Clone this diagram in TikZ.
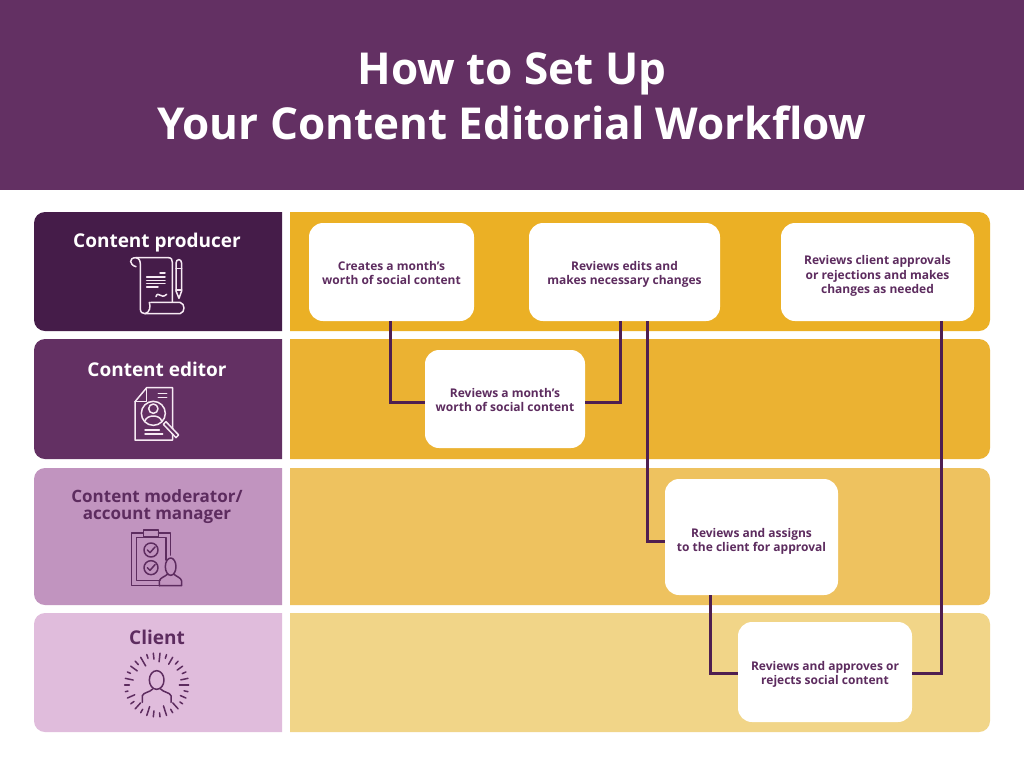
\documentclass[tikz,border=0pt]{standalone}
\usepackage{fontspec}
\setmainfont{Open Sans}
\definecolor{headcol}{HTML}{633063}
\definecolor{producercol}{HTML}{451C49}
\definecolor{moderatorcol}{HTML}{C194BF}
\definecolor{clientcol}{HTML}{E0BCDC}
\definecolor{golda}{HTML}{EBB025}
\definecolor{goldb}{HTML}{EBB232}
\definecolor{goldc}{HTML}{EEC25F}
\definecolor{goldd}{HTML}{F1D588}
\definecolor{inkcol}{HTML}{5D2C5F}
\definecolor{linkcol}{HTML}{4F1F50}
\definecolor{paper}{HTML}{F6E9F3}
\newcommand{\topstrut}[1][15pt]{\rule{0pt}{#1}}
\newcommand{\botstrut}{\rule[-4pt]{0pt}{4pt}}
\tikzset{
	titletext/.style={text=white, align=center, font=\bfseries\fontsize{44}{55}\selectfont},
	roletext/.style={align=center, font=\bfseries\fontsize{19}{18.5}\selectfont},
	stepbox/.style={fill=white, rounded corners=14pt, align=center, inner sep=0pt, text=inkcol, font=\bfseries\fontsize{12}{14.3}\selectfont},
	link/.style={draw=linkcol, line width=3pt},
	icon/.style={line width=1.5pt, line join=round, line cap=round},
}
\begin{document}
\begin{tikzpicture}[x=1pt, y=-1pt]
	\useasboundingbox (0, 0) rectangle (1024, 758);
	\fill[white]	(0, 0) rectangle (1024, 758);
	\fill[headcol]	(0, 0) rectangle (1024, 190);

	\node[titletext] (title) at (512, 96) {How to Set Up\\Your Content Editorial Workflow};

	\foreach \ytop/\ybot/\rolecol/\bandcol in {212/331/producercol/golda, 339/459/headcol/goldb, 468/605/moderatorcol/goldc, 613/732/clientcol/goldd} {
		\fill[\rolecol, rounded corners=11pt]	(282, \ytop) -- (34, \ytop) -- (34, \ybot) -- (282, \ybot);
		\fill[\bandcol, rounded corners=11pt]	(290, \ytop) -- (990, \ytop) -- (990, \ybot) -- (290, \ybot);
	}

	\node[roletext, text=white] (producer) at (157, 243) {Content producer};
	\node[roletext, text=white] (editor) at (157, 369.5) {Content editor};
	\node[roletext, text=inkcol, font=\bfseries\fontsize{17}{17}\selectfont] (moderator) at (157, 506.5) {Content moderator/\\account manager};
	\node[roletext, text=inkcol] (client) at (157, 637.5) {Client};

	\node[stepbox, minimum width=165pt, minimum height=98pt] (creates) at (391.5, 272) {\topstrut Creates a month’s\\worth of social content\botstrut};
	\node[stepbox, minimum width=191pt, minimum height=98pt] (edits) at (624.5, 272) {\topstrut Reviews edits and\\makes necessary changes\botstrut};
	\node[stepbox, minimum width=193pt, minimum height=98pt] (approvals) at (877.5, 272) {\topstrut[18pt]Reviews client approvals\\or rejections and makes\\changes as needed\botstrut};
	\node[stepbox, minimum width=160pt, minimum height=98pt] (reviews) at (505, 399) {\topstrut Reviews a month’s\\worth of social content\botstrut};
	\node[stepbox, minimum width=173pt, minimum height=116pt] (assigns) at (751.5, 537) {\topstrut[19pt]Reviews and assigns\\to the client for approval\botstrut};
	\node[stepbox, minimum width=174pt, minimum height=100pt] (approves) at (825, 672) {\topstrut Reviews and approves or\\rejects social content\botstrut};

	\draw[link]	([xshift=-1.5pt]creates.south) |- ([yshift=-3pt]reviews.west);
	\draw[link]	([yshift=-3pt]reviews.east) -| ([xshift=-4.5pt]edits.south);
	\draw[link]	([xshift=22.5pt]edits.south) |- ([yshift=-4pt]assigns.west);
	\draw[link]	([xshift=-41.5pt]assigns.south) |- ([yshift=-1pt]approves.west);
	\draw[link]	([yshift=-1pt]approves.east) -| ([xshift=63.5pt]approvals.south);

	\begin{scope}[shift={(30, 205)}, scale=1/3, icon, draw=paper]
		\draw	(318, 185) .. controls (298, 180) and (295, 158) .. (318, 158) -- (415, 158) .. controls (425, 158) and (427, 165) .. (427, 172) -- (427, 290);
		\draw	(318, 158) .. controls (328, 160) and (331, 168) .. (331, 178) -- (331, 312) .. controls (331, 322) and (338, 326) .. (345, 326) -- (450, 326) .. controls (466, 322) and (466, 296) .. (450, 292) -- (362, 292);
		\draw	(345, 326) .. controls (360, 322) and (362, 305) .. (358, 292);
		\foreach \y in {216, 226, 236} {
			\draw	(350, \y) to (405, \y);
		}
		\draw	(350, 246) to (384, 246);
		\draw	(390, 204) to (405, 204);
		\draw	(378, 275) .. controls (385, 255) and (392, 285) .. (410, 268);
		\draw	(438, 175) .. controls (438, 160) and (455, 160) .. (455, 175) -- (455, 258) -- (447, 280) -- (438, 258) -- cycle;
		\draw	(438, 190) to (455, 190);
		\draw	(438, 255) to (455, 255);
	\end{scope}

	\begin{scope}[shift={(30, 205)}, scale=1/3, icon, draw=paper]
		\draw	(350, 548) -- (428, 548) -- (428, 705) -- (315, 705) -- (315, 590) -- cycle;
		\draw	(350, 548) -- (350, 590) -- (315, 590);
		\draw	(385, 565) to (410, 565);
		\draw	(385, 578) to (410, 578);
		\draw[fill=headcol]	(370, 625) circle[radius=36];
		\draw	(370, 611) circle[radius=14];
		\draw	(345, 648) .. controls (350, 628) and (390, 628) .. (395, 648);
		\draw[fill=headcol]	(400, 658) -- (408, 650) -- (446, 690) -- (438, 698) -- cycle;
		\draw	(345, 675) to (388, 675);
		\draw	(345, 687) to (398, 687);
	\end{scope}

	\begin{scope}[shift={(30, 465)}, scale=1/3, icon, draw=inkcol]
		\draw	(340, 204) -- (305, 204) -- (305, 362) -- (388, 362);
		\draw	(385, 204) -- (422, 204) -- (422, 270);
		\draw	(340, 218) -- (320, 218) -- (320, 347) -- (390, 347);
		\draw	(385, 218) -- (408, 218) -- (408, 285);
		\draw	(340, 195) rectangle (385, 216);
		\foreach \y in {255, 308} {
			\draw	(363, \y) circle[radius=21];
			\draw	(352, \y) -- (360, {\y+8}) -- (375, {\y-9});
		}
		\draw	(422, 305) ellipse[x radius=16, y radius=26];
		\draw	(388, 362) -- (388, 348) .. controls (390, 338) and (405, 335) .. (412, 328);
		\draw	(432, 328) .. controls (440, 335) and (453, 338) .. (455, 348) -- (455, 362) -- (388, 362);
	\end{scope}

	\begin{scope}[shift={(30, 465)}, scale=1/3, icon, draw=inkcol]
		\draw	(380, 645) ellipse[x radius=22, y radius=28];
		\draw	(337, 712) -- (337, 692) .. controls (340, 682) and (360, 682) .. (368, 672);
		\draw	(392, 672) .. controls (400, 682) and (420, 682) .. (423, 692) -- (423, 712);
		\foreach \a/\r in {0/68, 12/84, 24/78, 36/86, 48/72, 60/84, 72/66, 84/84, 96/78, 108/68, 120/84, 132/72, 144/84, 156/72, 168/88, 180/82, 192/72, 204/86, 216/72, 228/82, 240/66, 252/84, 264/78, 276/70, 288/84, 300/72, 312/84, 324/76, 336/84, 348/74} {
			\draw	({380+\r*cos(\a)}, {660+\r*sin(\a)}) to ({380+96*cos(\a)}, {660+96*sin(\a)});
		}
	\end{scope}
\end{tikzpicture}
\end{document}
